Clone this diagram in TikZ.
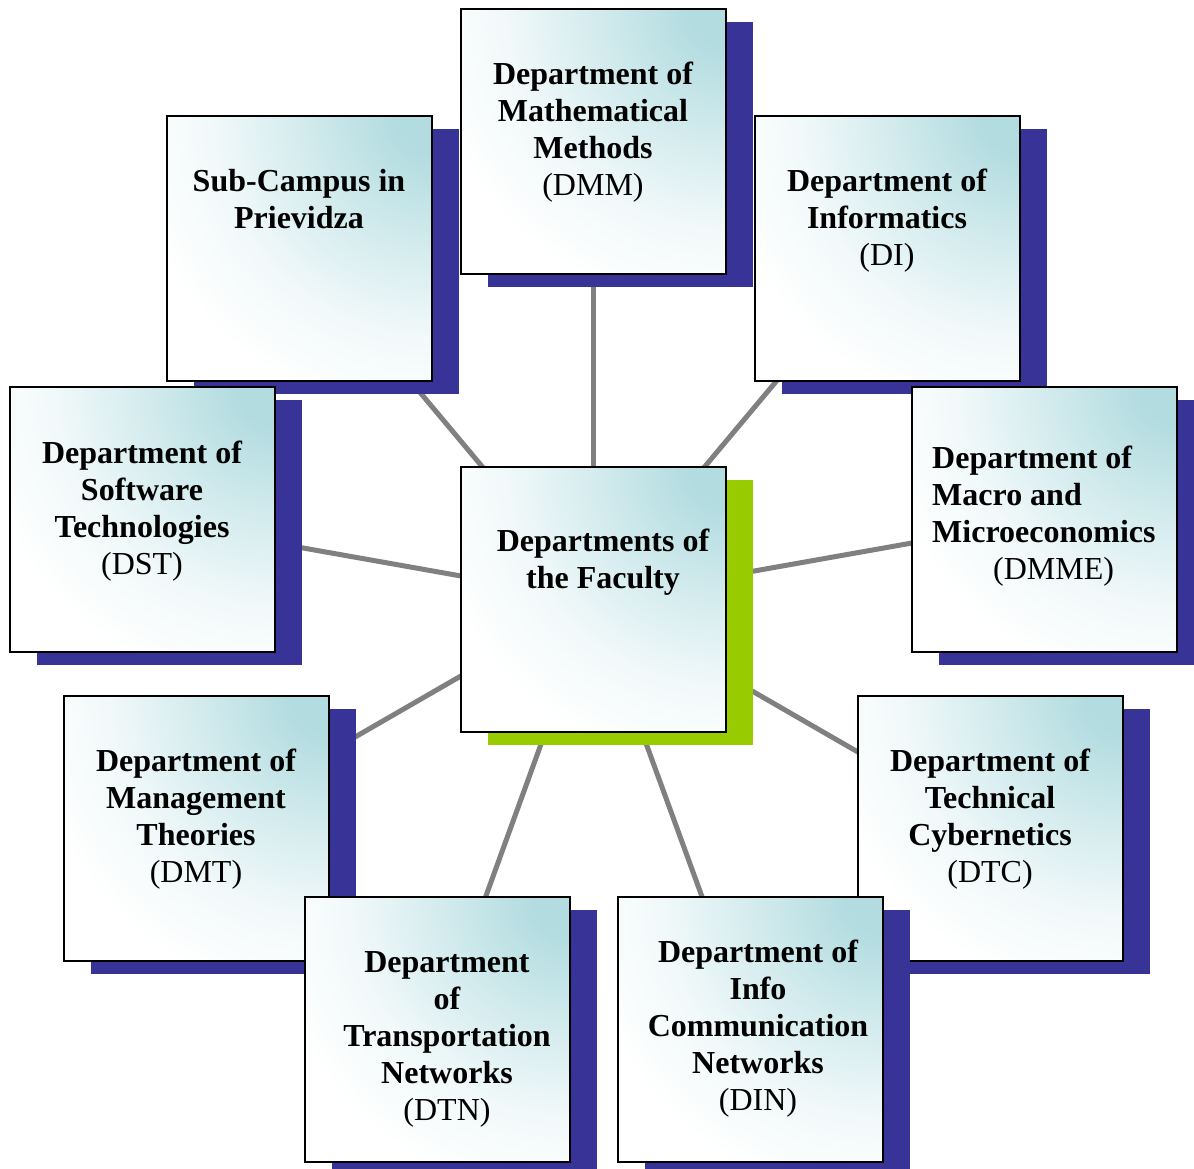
\documentclass[tikz,border=0pt]{standalone}
\usepackage{fontspec}
\setmainfont{Liberation Serif}
\usetikzlibrary{shadows,backgrounds}
\definecolor{tealc}{HTML}{B2DCE0}
\colorlet{tealm}{tealc!55!white}
\colorlet{teall}{tealc!18!white}
\definecolor{shblue}{HTML}{373397}
\definecolor{shgreen}{HTML}{99CC00}
\definecolor{conn}{HTML}{808080}
\pgfdeclareradialshading{boxsh}{\pgfpoint{0bp}{0bp}}{color(0bp)=(tealc); color(3bp)=(tealc); color(11bp)=(tealm); color(18bp)=(teall); color(25bp)=(white); color(50bp)=(white)}
\tikzset{
  deptbox/.style={draw=black, fill=white, line width=2pt, minimum size=265pt, inner sep=0pt,
    path picture={\shade[shading=boxsh]
      (path picture bounding box.north east) circle (305pt);},
    general shadow={fill=shblue, shadow xshift=27pt, shadow yshift=-13pt}},
  centerbox/.style={deptbox, general shadow={fill=shgreen, shadow xshift=27pt, shadow yshift=-13pt}},
  lbl/.style={inner sep=0pt, align=center, anchor=north, font={\fontsize{32}{37}\selectfont\bfseries}},
  conline/.style={draw=conn, line width=5pt}
}
\begin{document}
\begin{tikzpicture}[x=1pt,y=-1pt]
\useasboundingbox (0,0) rectangle (1194,1169);
\clip (0,0) rectangle (1194,1169);
% boxes
\node[deptbox] (b1) at (299.5,248.5) {};
\node[deptbox] (b2) at (593.5,141.5) {};
\node[deptbox] (b3) at (887.5,248.5) {};
\node[deptbox] (b4) at (142.5,519.5) {};
\node[deptbox] (b6) at (1044.5,519.5) {};
\node[deptbox] (b7) at (196.5,828.5) {};
\node[deptbox] (b8) at (990.5,828.5) {};
\node[deptbox] (b9) at (437.5,1029.5) {};
\node[deptbox] (b10) at (750.5,1029.5) {};
\node[centerbox] (b5) at (593.5,599.5) {};
% labels
\node[lbl] (t1) at (299,169) {Sub-Campus in\\Prievidza};
\node[lbl] (t2) at (593,62) {Department of\\Mathematical\\Methods\\\textmd{(DMM)}};
\node[lbl] (t3) at (887,169) {Department of\\Informatics\\\textmd{(DI)}};
\node[lbl] (t4) at (142,441) {Department of\\Software\\Technologies\\\textmd{(DST)}};
\node[lbl] (t5) at (603,529) {Departments of\\the Faculty};
\node[lbl, align=left, anchor=north west] (t6) at (932,446) {Department of\\Macro and\\Microeconomics\\\hspace*{61pt}\textmd{(DMME)}};
\node[lbl] (t7) at (196,749) {Department of\\Management\\Theories\\\textmd{(DMT)}};
\node[lbl] (t8) at (990,749) {Department of\\Technical\\Cybernetics\\\textmd{(DTC)}};
\node[lbl] (t9) at (447,951) {Department\\of\\Transportation\\Networks\\\textmd{(DTN)}};
\node[lbl] (t10) at (758,940) {Department of\\Info\\Communication\\Networks\\\textmd{(DIN)}};
% connectors
\begin{scope}[on background layer]
\fill[white] (0,0) rectangle (1194,1169);
\foreach \n in {b1,b2,b3,b4,b6,b7,b8,b9,b10}
  \draw[conline] (b5.center) -- (\n.center);
\end{scope}
\end{tikzpicture}
\end{document}
